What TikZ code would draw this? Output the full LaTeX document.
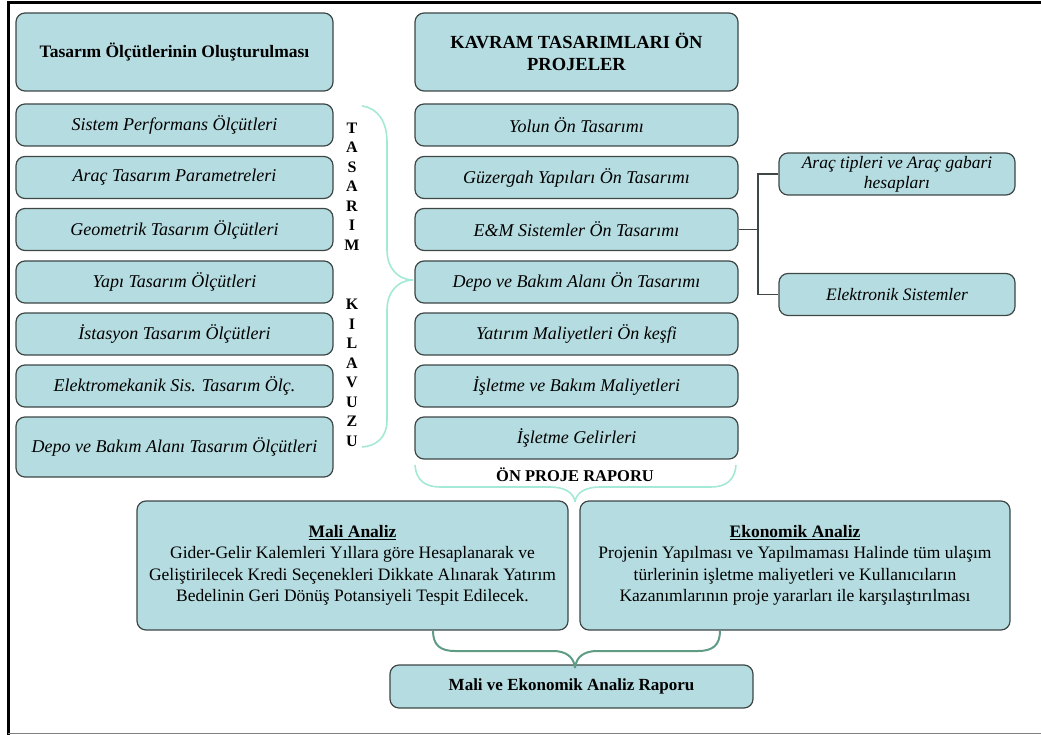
\documentclass[tikz,border=0pt]{standalone}
\usepackage{fontspec}
\setmainfont{Liberation Serif}
\usepackage{xcolor}
\definecolor{boxfill}{HTML}{B5DCE0}
\definecolor{boxline}{HTML}{3E4646}
\definecolor{bracelight}{HTML}{A4E8D6}
\definecolor{bracedark}{HTML}{5E9C84}
\begin{document}
\begin{tikzpicture}[x=1pt,y=-1pt,
  box/.style={draw=boxline, fill=boxfill, rounded corners=9pt, line width=1.2pt, align=center, inner sep=2pt},
  lbox/.style={box, minimum width=317pt},
  mbox/.style={box, minimum width=323pt},
  rbox/.style={box, minimum width=236pt, minimum height=42pt},
  itemtxt/.style={font=\fontsize{18}{20}\selectfont\itshape},
  headtxt/.style={font=\fontsize{17.5}{21}\selectfont\bfseries},
  vert/.style={font=\fontsize{16}{19.5}\selectfont\bfseries, align=center, inner sep=0pt},
  lbrace/.style={draw=bracelight, line width=1.6pt},
  dbrace/.style={draw=bracedark, line width=2pt},
  conn/.style={draw=boxline, line width=1.2pt}]
\useasboundingbox (0,0) rectangle (1041,735);
% frame
\draw[line width=3pt, black] (8,735) -- (8,3) -- (1041,3);
\draw[line width=1.2pt, gray] (8,733.5) -- (1041,733.5);
% left column
\node[lbox, headtxt, minimum height=78pt] (lt) at (174.5,52) {Tasarım Ölçütlerinin Oluşturulması};
\node[lbox, itemtxt, minimum height=42pt] (l1) at (174.5,125) {Sistem Performans Ölçütleri};
\node[lbox, itemtxt, minimum height=42pt] (l2) at (174.5,177.5) {Araç Tasarım Parametreleri};
\node[lbox, itemtxt, minimum height=42pt] (l3) at (174.5,229.5) {Geometrik Tasarım Ölçütleri};
\node[lbox, itemtxt, minimum height=42pt] (l4) at (174.5,282) {Yapı Tasarım Ölçütleri};
\node[lbox, itemtxt, minimum height=42pt] (l5) at (174.5,334) {İstasyon Tasarım Ölçütleri};
\node[lbox, itemtxt, minimum height=42pt] (l6) at (174.5,386) {Elektromekanik Sis. Tasarım Ölç.};
\node[lbox, itemtxt, minimum height=60pt] (l7) at (174.5,447) {Depo ve Bakım Alanı Tasarım Ölçütleri};
% middle column
\node[mbox, font=\fontsize{18.5}{22}\selectfont\bfseries, minimum height=78pt] (mt) at (576.5,52) {KAVRAM TASARIMLARI ÖN\\PROJELER};
\node[mbox, itemtxt, minimum height=42pt] (m1) at (576.5,125) {Yolun Ön Tasarımı};
\node[mbox, itemtxt, minimum height=42pt] (m2) at (576.5,177.5) {Güzergah Yapıları Ön Tasarımı};
\node[mbox, itemtxt, minimum height=42pt] (m3) at (576.5,229.5) {E\&M Sistemler Ön Tasarımı};
\node[mbox, itemtxt, minimum height=42pt] (m4) at (576.5,282) {Depo ve Bakım Alanı Ön Tasarımı};
\node[mbox, itemtxt, minimum height=42pt] (m5) at (576.5,334) {Yatırım Maliyetleri Ön keşfi};
\node[mbox, itemtxt, minimum height=42pt] (m6) at (576.5,386) {İşletme ve Bakım Maliyetleri};
\node[mbox, itemtxt, minimum height=42pt] (m7) at (576.5,438) {İşletme Gelirleri};
% right column
\node[rbox, font=\fontsize{17.5}{20}\selectfont\itshape] (r1) at (897,174) {Araç tipleri ve Araç gabari\\hesapları};
\node[rbox, font=\fontsize{17.5}{20}\selectfont\itshape] (r2) at (897,294.5) {Elektronik Sistemler};
\coordinate (j) at (758,229.5);
\draw[conn] (m3.east) -- (j);
\draw[conn] (r1.west) -| (j) |- (r2.west);
% vertical words
\node[vert] (w1) at (352,186.5) {T\\A\\S\\A\\R\\I\\M};
\node[vert] (w2) at (352,373) {K\\I\\L\\A\\V\\U\\Z\\U};
% left brace
\coordinate (bt) at (362,106);
\coordinate (bb) at (362,447);
\coordinate (btip) at (413,280);
\draw[lbrace] (bt) .. controls (378,108) and (387,122) .. (387,142)
  -- (387,250) .. controls (387,268) and (398,280) .. (btip);
\draw[lbrace] (btip) .. controls (398,280) and (387,292) .. (387,310)
  -- (387,420) .. controls (387,438) and (376,446) .. (bb);
% ON PROJE RAPORU brace
\node[font=\fontsize{16.5}{18}\selectfont\bfseries, inner sep=0pt] (opr) at (575,475) {ÖN PROJE RAPORU};
\coordinate (ol) at (415,465);
\coordinate (or) at (736,465);
\coordinate (otip) at (575,502);
\draw[lbrace] (ol) .. controls (416,480) and (425,487) .. (440,487)
  -- (550,487) .. controls (565,487) and (574,493) .. (otip);
\draw[lbrace] (otip) .. controls (576,493) and (585,487) .. (600,487)
  -- (711,487) .. controls (726,487) and (735,480) .. (or);
% analysis boxes
\node[box, minimum width=431pt, minimum height=129pt, font=\fontsize{17.5}{21.5}\selectfont] (mali) at (352.5,565.5)
  {\textbf{\underline{Mali Analiz}}\\Gider-Gelir Kalemleri Yıllara göre Hesaplanarak ve\\Geliştirilecek Kredi Seçenekleri Dikkate Alınarak Yatırım\\Bedelinin Geri Dönüş Potansiyeli Tespit Edilecek.};
\node[box, minimum width=430pt, minimum height=129pt, font=\fontsize{17.5}{21.5}\selectfont] (eko) at (795,565.5)
  {\textbf{\underline{Ekonomik Analiz}}\\Projenin Yapılması ve Yapılmaması Halinde tüm ulaşım\\türlerinin işletme maliyetleri ve Kullanıcıların\\Kazanımlarının proje yararları ile karşılaştırılması};
\node[box, minimum width=363pt, minimum height=43pt, font=\fontsize{17}{20}\selectfont\bfseries] (rap) at (571.5,686.5) {Mali ve Ekonomik Analiz Raporu};
% bottom brace
\coordinate (dtip) at (575,668);
\draw[dbrace] (mali.south -| 433,0) .. controls (433,645) and (440,651) .. (455,651)
  -- (553,651) .. controls (566,651) and (574,657) .. (dtip);
\draw[dbrace] (dtip) .. controls (576,657) and (584,651) .. (597,651)
  -- (698,651) .. controls (713,651) and (720,645) .. (eko.south -| 720,0);
\end{tikzpicture}
\end{document}
